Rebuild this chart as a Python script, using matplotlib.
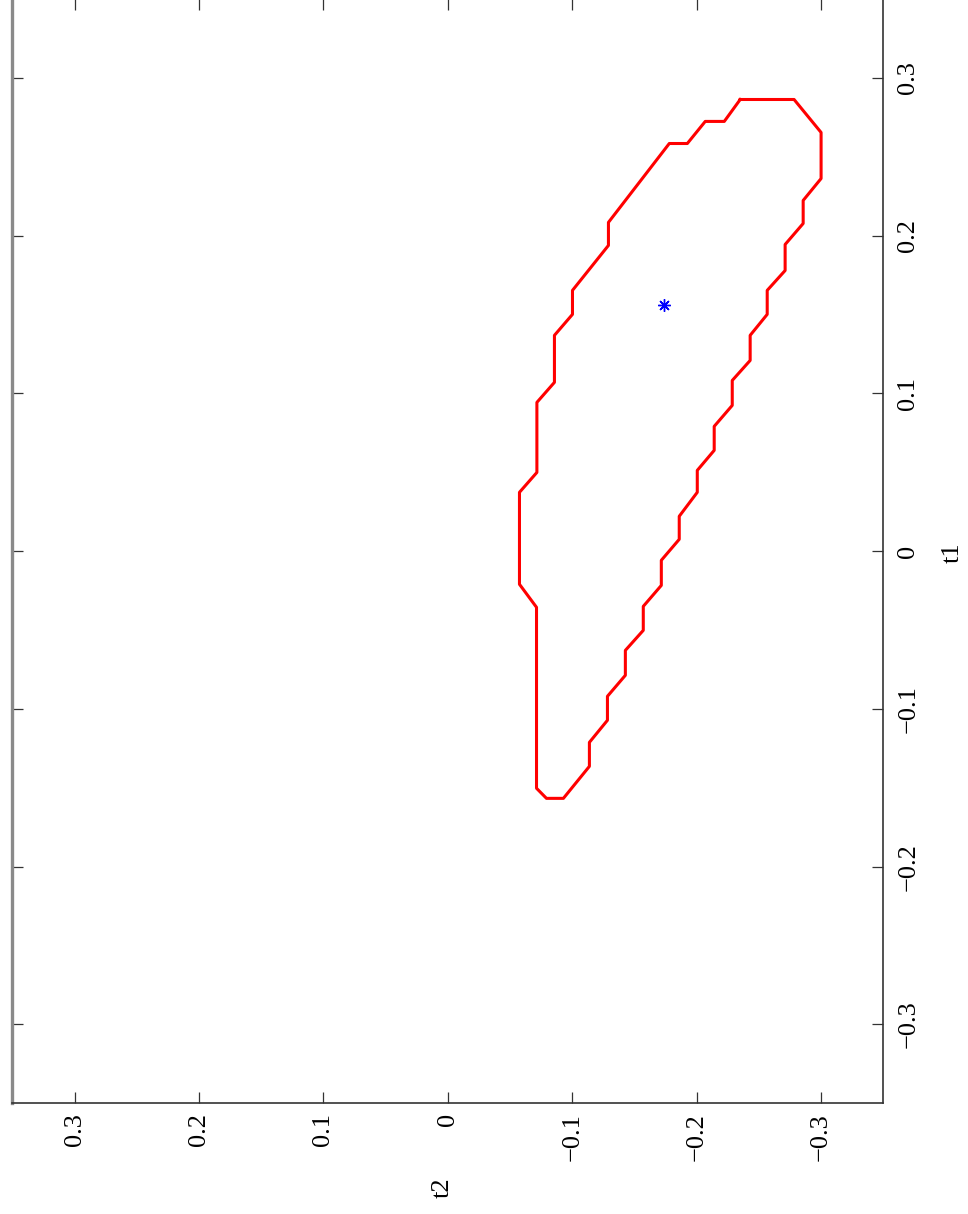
import matplotlib
matplotlib.use("Agg")
import matplotlib.pyplot as plt

# confidence region contour (staircase)
t1_contour = [0.2863, 0.2863, 0.2654, 0.2362, 0.2223, 0.2077, 0.1944, 0.1779,
              0.1653, 0.1501, 0.1368, 0.1209, 0.1082, 0.0924, 0.0791, 0.0639,
              0.0512, 0.0373, 0.0221, 0.0075, -0.0058, -0.0217, -0.0350, -0.0502,
              -0.0629, -0.0787, -0.0920, -0.1072, -0.1212, -0.1364, -0.1567, -0.1567,
              -0.1503, -0.0356, -0.0210, 0.0373, 0.0499, 0.0943, 0.1070, 0.1368,
              0.1501, 0.1653, 0.1938, 0.2084, 0.2584, 0.2584, 0.2724, 0.2724, 0.2863]
t2_contour = [-0.2350, -0.2783, -0.3000, -0.3000, -0.2856, -0.2856, -0.2711, -0.2711,
              -0.2567, -0.2567, -0.2430, -0.2430, -0.2286, -0.2286, -0.2141, -0.2141,
              -0.2005, -0.2005, -0.1860, -0.1860, -0.1716, -0.1716, -0.1571, -0.1571,
              -0.1427, -0.1427, -0.1283, -0.1283, -0.1138, -0.1138, -0.0929, -0.0793,
              -0.0713, -0.0713, -0.0576, -0.0576, -0.0716, -0.0716, -0.0857, -0.0857,
              -0.1002, -0.1002, -0.1291, -0.1291, -0.1780, -0.1925, -0.2069, -0.2222, -0.2350]

# estimate
t1_star = [0.1560]
t2_star = [-0.1734]

tick_values = [-0.3, -0.2, -0.1, 0.0, 0.1, 0.2, 0.3]
tick_labels = ["\u22120.3", "\u22120.2", "\u22120.1", "0", "0.1", "0.2", "0.3"]

plt.rcParams['font.family'] = ['Liberation Serif', 'DejaVu Serif']

W, H = 968, 1214
fig = plt.figure(figsize=(W / 100, H / 100), dpi=100)
ax = fig.add_axes([12.3 / W, (H - 1103.3) / H, 871.0 / W, 1104.3 / H])

# plot is shown rotated: t2 runs horizontally (reversed), t1 vertically
ax.plot(t2_contour, t1_contour, color='#ff0000', lw=2.2)
ax.plot(t2_star, t1_star, linestyle='none', marker=(8, 2, 0), color='#0000ff',
        markersize=9, mew=1.0)

ax.set_xlim(0.35, -0.35)
ax.set_ylim(-0.35, 0.35)

ax.set_xticks(tick_values)
ax.set_xticklabels(tick_labels, rotation=90, fontsize=19)
ax.set_yticks(tick_values)
ax.set_yticklabels(tick_labels, rotation=90, fontsize=19, va='center')

ax.yaxis.tick_right()
ax.tick_params(axis='both', direction='in', length=8, width=0.9, color='#333333',
               top=True, bottom=True, left=True, right=True)
ax.tick_params(axis='x', pad=7, labeltop=False, labelbottom=True)
ax.tick_params(axis='y', pad=10, labelleft=False, labelright=True)

for side in ['right', 'bottom', 'top']:
    ax.spines[side].set_color('#333333')
    ax.spines[side].set_linewidth(1.2)
ax.spines['left'].set_color('#8a8a8a')
ax.spines['left'].set_linewidth(2.4)

fig.text(953 / W, 1 - 553 / H, 't1', rotation=90, ha='center', va='center', fontsize=19)
fig.text(442.5 / W, 1 - 1188 / H, 't2', rotation=90, ha='center', va='center', fontsize=19)

fig.savefig("out.png", dpi=100)
